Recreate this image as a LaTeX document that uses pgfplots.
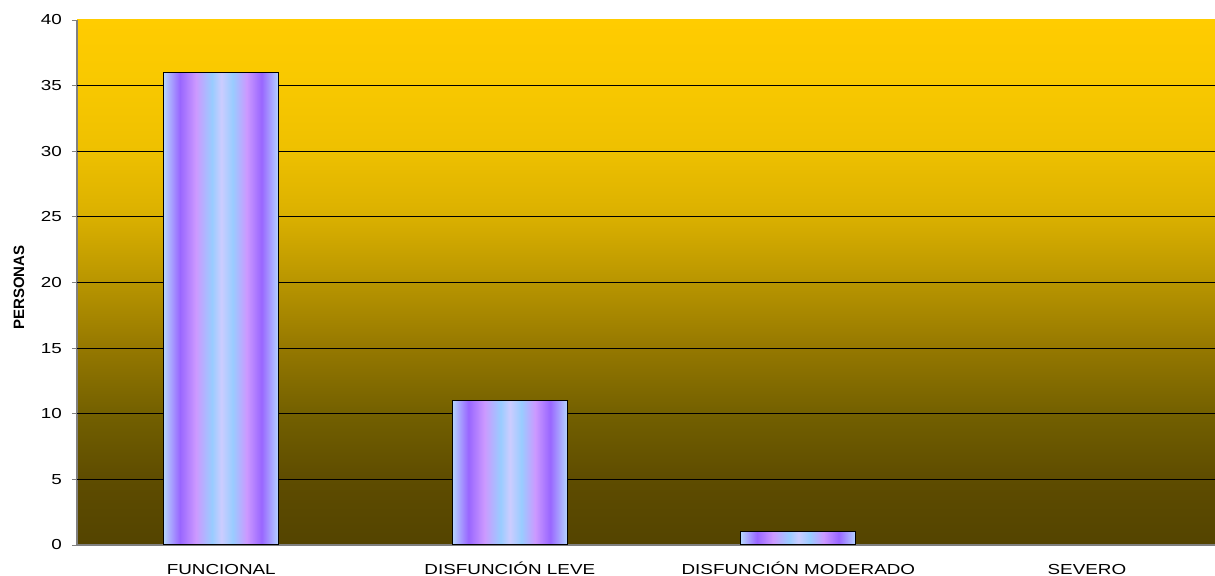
\documentclass[border=0pt]{standalone}
\usepackage{fontspec}
\setmainfont{Liberation Sans}[FakeStretch=1.3]
\newfontfamily\labelfont{Liberation Sans}
\usepackage{pgfplots}
\pgfplotsset{compat=1.18}

\definecolor{cLB}{HTML}{B4D4FF}
\definecolor{cPU}{HTML}{9966FF}
\definecolor{cPK}{HTML}{CC99FF}
\definecolor{cBL}{HTML}{99CCFF}
\definecolor{cLV}{HTML}{CCCCFF}
\definecolor{g0}{HTML}{544400}
\definecolor{g5}{HTML}{5E4C00}
\definecolor{g10}{HTML}{736000}
\definecolor{g15}{HTML}{957800}
\definecolor{g20}{HTML}{B89500}
\definecolor{g25}{HTML}{DAB000}
\definecolor{g30}{HTML}{EEC000}
\definecolor{g35}{HTML}{F8C800}
\definecolor{g40}{HTML}{FFCC00}

\pgfdeclarehorizontalshading{barstripes}{100bp}{color(0bp)=(cLB); color(25bp)=(cLB); color(32bp)=(cPU); color(39bp)=(cPK); color(46bp)=(cBL); color(50bp)=(cLV); color(55bp)=(cBL); color(61bp)=(cPK); color(67.5bp)=(cPU); color(75bp)=(cLB); color(100bp)=(cLB)}
\pgfdeclareverticalshading{bgshade}{100bp}{color(0bp)=(g0); color(25bp)=(g0); color(31.25bp)=(g5); color(37.5bp)=(g10); color(43.75bp)=(g15); color(50bp)=(g20); color(56.25bp)=(g25); color(62.5bp)=(g30); color(68.75bp)=(g35); color(75bp)=(g40); color(100bp)=(g40)}

\begin{document}
\begin{tikzpicture}
\useasboundingbox (0,0) rectangle (1215bp,576bp);
\begin{axis}[
  at={(77bp,31bp)}, anchor=south west,
  scale only axis, width=1138bp, height=525bp,
  xmin=-0.5, xmax=3.444, ymin=0, ymax=40,
  ybar, bar width=115bp,
  axis x line*=bottom, axis y line*=left,
  axis line style={draw=gray, line width=1.2bp, -},
  axis background/.style={shading=bgshade},
  xtick={0,1,2,3},
  xticklabels={FUNCIONAL, DISFUNCIÓN LEVE, DISFUNCIÓN MODERADO, SEVERO},
  xtick style={draw=none},
  xticklabel style={font=\fontsize{14.5bp}{16bp}\selectfont, anchor=north, inner sep=0pt, text height=10.4bp, text depth=0pt, yshift=-14bp},
  ytick={0,5,...,40},
  ytick style={draw=gray, line width=0.8bp},
  tick align=outside, major tick length=5bp,
  yticklabel style={font=\fontsize{14.5bp}{16bp}\selectfont, anchor=east, inner sep=0pt, xshift=-10bp},
  /pgf/number format/assume math mode=true,
  extra y ticks={5,10,...,35},
  extra y tick labels={},
  extra y tick style={grid=major, major tick length=0pt},
  grid style={draw=black, line width=0.8bp},
  ylabel={PERSONAS},
  ylabel style={font=\labelfont\bfseries\fontsize{15bp}{17bp}\selectfont, at={(axis description cs:-0.051,0.49)}, anchor=center},
  bar shift=0pt,
]
\addplot[draw=black, line width=1.2bp, shading=barstripes] coordinates {(0,36)};
\addplot[draw=black, line width=1.2bp, shading=barstripes] coordinates {(1,11)};
\addplot[draw=black, line width=1.2bp, shading=barstripes] coordinates {(2,1)};
\end{axis}
\end{tikzpicture}
\end{document}
